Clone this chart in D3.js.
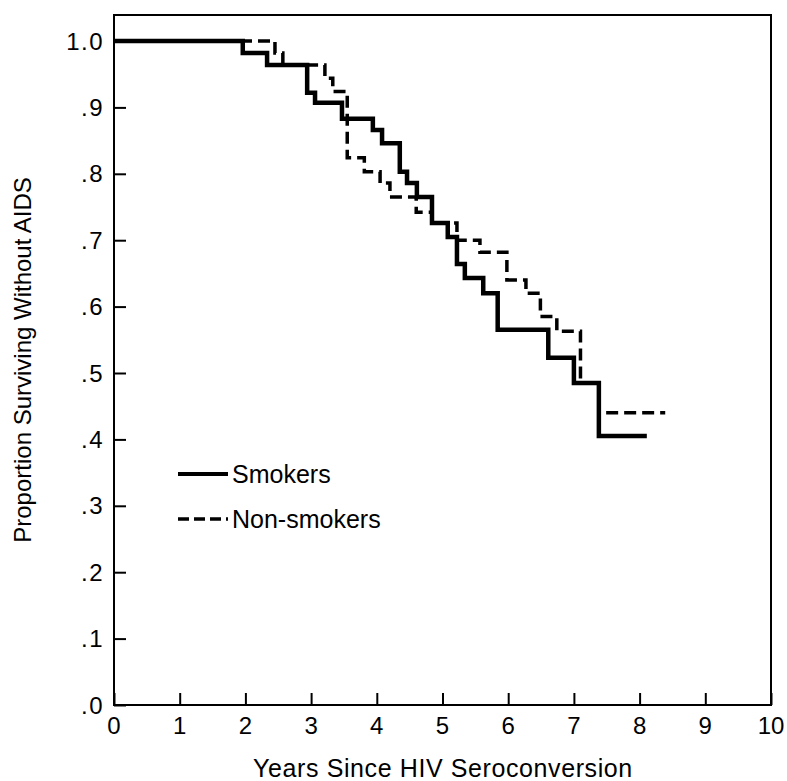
<!DOCTYPE html>
<html>
<head>
<meta charset="utf-8">
<script src="https://cdn.jsdelivr.net/npm/d3@7"></script>
<style>
  body { margin: 0; background: #fff; }
  text { font-family: "Liberation Sans", Arial, sans-serif; fill: #000; }
</style>
</head>
<body>
<div id="plot"></div>
<script>
// step times (years) and survival after each drop
var smokerTimes  = [0, 1.96, 2.33, 2.94, 3.06, 3.47, 3.94, 4.08, 4.35, 4.46, 4.61, 4.84, 5.08, 5.22, 5.34, 5.62, 5.84, 6.61, 7.00, 7.38, 8.11];
var smokerValues = [1, 0.982, 0.964, 0.922, 0.907, 0.883, 0.866, 0.846, 0.803, 0.786, 0.765, 0.726, 0.705, 0.664, 0.643, 0.620, 0.565, 0.523, 0.485, 0.405, 0.405];

var nonTimes  = [0, 2.45, 2.57, 3.21, 3.33, 3.55, 3.81, 4.05, 4.20, 4.60, 4.84, 5.22, 5.57, 5.98, 6.27, 6.49, 6.74, 7.10, 7.38, 8.39];
var nonValues = [1, 0.982, 0.964, 0.944, 0.924, 0.824, 0.803, 0.786, 0.765, 0.742, 0.726, 0.700, 0.682, 0.640, 0.620, 0.585, 0.563, 0.485, 0.440, 0.440];

var xTicks = [0, 1, 2, 3, 4, 5, 6, 7, 8, 9, 10];
var yTicks = [0, 0.1, 0.2, 0.3, 0.4, 0.5, 0.6, 0.7, 0.8, 0.9, 1.0];
var yTickLabels = [".0", ".1", ".2", ".3", ".4", ".5", ".6", ".7", ".8", ".9", "1.0"];

var seriesNames = ["Smokers", "Non-smokers"];

var W = 787, H = 781;
var m = { left: 114, right: 771, top: 15, bottom: 705 };

var svg = d3.select("#plot").append("svg")
    .attr("width", W)
    .attr("height", H);

var xScale = d3.scaleLinear().domain([0, 10]).range([m.left, m.right]);
var yScale = d3.scaleLinear().domain([0, 1]).range([m.bottom, m.bottom - 664]);

// frame
svg.append("rect")
    .attr("x", m.left).attr("y", m.top)
    .attr("width", m.right - m.left).attr("height", m.bottom - m.top)
    .attr("fill", "none").attr("stroke", "#000").attr("stroke-width", 2);

// axes with inward ticks
var xAxis = d3.axisTop(xScale).tickValues(xTicks).tickSize(12).tickFormat("");
svg.append("g")
    .attr("transform", "translate(0," + m.bottom + ")")
    .call(xAxis)
    .call(function(g) { g.select(".domain").remove(); })
    .selectAll("line").attr("stroke-width", 2);

var yAxis = d3.axisRight(yScale).tickValues(yTicks).tickSize(12).tickFormat("");
svg.append("g")
    .attr("transform", "translate(" + m.left + ",0)")
    .call(yAxis)
    .call(function(g) { g.select(".domain").remove(); })
    .selectAll("line").attr("stroke-width", 2);

// tick labels
svg.selectAll(".xlab").data(xTicks).enter().append("text")
    .attr("class", "xlab")
    .attr("x", function(d) { return xScale(d); })
    .attr("y", 734)
    .attr("text-anchor", "middle")
    .style("font-size", "24px")
    .text(function(d) { return d; });

svg.selectAll(".ylab").data(yTicks).enter().append("text")
    .attr("class", "ylab")
    .attr("x", 104)
    .attr("y", function(d) { return yScale(d) + 8.5; })
    .attr("text-anchor", "end")
    .style("font-size", "24px")
    .style("letter-spacing", "1.5px")
    .text(function(d, i) { return yTickLabels[i]; });

// axis titles
svg.append("text")
    .attr("x", 443).attr("y", 777)
    .attr("text-anchor", "middle")
    .style("font-size", "25px")
    .style("letter-spacing", "0.6px")
    .text("Years Since HIV Seroconversion");

svg.append("text")
    .attr("transform", "translate(31,360) rotate(-90)")
    .attr("text-anchor", "middle")
    .style("font-size", "24px")
    .text("Proportion Surviving Without AIDS");

// survival curves
var line = d3.line()
    .x(function(d) { return xScale(d[0]); })
    .y(function(d) { return yScale(d[1]); })
    .curve(d3.curveStepAfter);

var smokers = d3.zip(smokerTimes, smokerValues);
var nonSmokers = d3.zip(nonTimes, nonValues);

svg.append("path")
    .datum(nonSmokers)
    .attr("fill", "none")
    .attr("stroke", "#000")
    .attr("stroke-width", 3.5)
    .attr("stroke-dasharray", "12,6")
    .attr("d", line);

svg.append("path")
    .datum(smokers)
    .attr("fill", "none")
    .attr("stroke", "#000")
    .attr("stroke-width", 4.5)
    .attr("d", line);

// legend
var legend = svg.append("g");
seriesNames.forEach(function(name, i) {
    var y = 474 + i * 45;
    legend.append("line")
        .attr("x1", 178).attr("x2", 228)
        .attr("y1", y).attr("y2", y)
        .attr("stroke", "#000")
        .attr("stroke-width", i == 0 ? 4 : 3.5)
        .attr("stroke-dasharray", i == 0 ? null : "11,5");
    legend.append("text")
        .attr("x", 232).attr("y", y + 9)
        .style("font-size", "25px")
        .text(name);
});
</script>
</body>
</html>
